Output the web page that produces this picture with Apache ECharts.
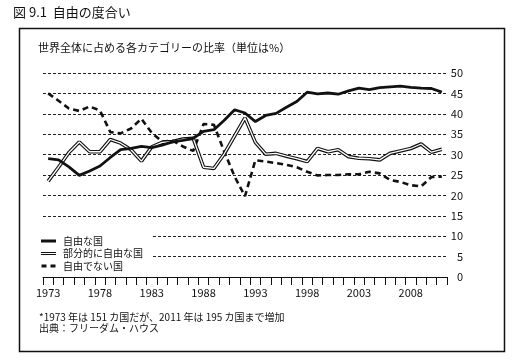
<!DOCTYPE html>
<html>
<head>
<meta charset="utf-8">
<script src="https://cdn.jsdelivr.net/npm/echarts@6/dist/echarts.min.js"></script>
<style>
html,body{margin:0;padding:0;background:#fff;}
#c{width:516px;height:360px;}
</style>
</head>
<body>
<div id="c"></div>
<script>
const years = ['1973','1974','1975','1976','1977','1978','1979','1980','1981','1982','1983','1984','1985','1986','1987','1988','1989','1990','1991','1992','1993','1994','1995','1996','1997','1998','1999','2000','2001','2002','2003','2004','2005','2006','2007','2008','2009','2010','2011'];
const freeVals = [29.0,28.7,27.0,24.9,26.0,27.2,29.3,31.2,31.5,32.0,31.7,32.3,33.1,33.5,34.0,35.7,36.1,38.4,41.0,40.2,38.1,39.6,40.1,41.6,43.0,45.3,44.9,45.1,44.8,45.6,46.3,45.9,46.4,46.6,46.8,46.5,46.3,46.2,45.3];
const partlyVals = [23.5,26.9,30.5,33.1,30.7,30.7,33.7,32.8,31.2,28.4,31.9,33.0,33.2,33.8,34.0,26.9,26.6,30.2,34.6,39.0,33.0,30.1,30.3,29.6,29.0,28.3,31.5,30.7,31.2,29.5,29.1,29.0,28.7,30.3,30.9,31.5,32.6,30.6,31.3];
const notFreeVals = [45.0,43.2,41.3,40.7,41.8,40.8,35.5,35.2,36.4,38.8,35.3,33.2,33.4,32.0,30.9,37.5,37.3,30.7,24.6,19.8,28.6,28.3,27.9,27.5,26.9,25.8,24.9,25.0,25.0,25.2,25.2,25.8,25.4,23.8,23.3,22.5,22.2,24.5,24.6];
const seriesNames = ['自由な国','部分的に自由な国','自由でない国'];
const headerText = '図 9.1  自由の度合い';
const chartTitle = '世界全体に占める各カテゴリーの比率（単位は%）';
const note1 = '*1973 年は 151 カ国だが、2011 年は 195 カ国まで増加';
const note2 = '出典：フリーダム・ハウス';

const FONT = '"Noto Sans CJK JP", "Noto Sans", sans-serif';
const chart = echarts.init(document.getElementById('c'), null, {renderer:'canvas'});
chart.setOption({
  backgroundColor: '#fff',
  animation: false,
  textStyle: { fontFamily: FONT, color: '#111' },
  grid: { left: 43, right: 69, top: 73, bottom: 83 },
  xAxis: {
    type: 'category',
    data: years,
    boundaryGap: true,
    axisLine: { lineStyle: { color: '#111', width: 1 } },
    axisTick: { show: true, interval: 0, length: 8, lineStyle: { color: '#111', width: 1 } },
    axisLabel: { interval: 4, margin: 10, fontSize: 11, color: '#111', fontFamily: FONT },
    splitLine: { show: false }
  },
  yAxis: {
    type: 'value',
    position: 'right',
    min: 0, max: 50, interval: 5,
    axisLine: { show: false },
    axisTick: { show: false },
    axisLabel: { margin: 16, align: 'right', fontSize: 11, color: '#111', fontFamily: FONT },
    splitLine: { show: true, lineStyle: { color: '#222', width: 1, type: [3, 2] } }
  },
  legend: {
    orient: 'vertical',
    left: 37,
    top: 232,
    padding: [3, 10, 3, 4],
    backgroundColor: '#fff',
    itemWidth: 15,
    itemHeight: 3,
    itemGap: 0.5,
    textStyle: { fontSize: 10, color: '#111', fontFamily: FONT, lineHeight: 12, padding: [0,0,0,2] },
    data: [
      { name: seriesNames[0], icon: 'rect' },
      { name: seriesNames[1], icon: 'path://M0,0H15V1H0Z M0,2H15V3H0Z' },
      { name: seriesNames[2], icon: 'path://M0,0H5V3H0Z M9,0H14V3H9Z' }
    ],
    selectedMode: false,
    z: 10
  },
  series: [
    {
      name: seriesNames[2], type: 'line', data: notFreeVals, showSymbol: false, symbol: 'none',
      itemStyle: { color: '#111' },
      lineStyle: { color: '#111', width: 2.6, type: [6, 4] }, z: 2
    },
    {
      name: seriesNames[1], type: 'line', data: partlyVals, showSymbol: false, symbol: 'none',
      itemStyle: { color: '#111' },
      lineStyle: { color: '#111', width: 3.6 }, z: 3
    },
    {
      name: seriesNames[1] + '_inner', type: 'line', data: partlyVals, showSymbol: false, symbol: 'none',
      itemStyle: { color: '#fff' },
      lineStyle: { color: '#fff', width: 1.3 }, z: 4
    },
    {
      name: seriesNames[0], type: 'line', data: freeVals, showSymbol: false, symbol: 'none',
      itemStyle: { color: '#111' },
      lineStyle: { color: '#111', width: 2.8 }, z: 5
    }
  ],
  graphic: [
    { type: 'rect', left: 17, top: 26, shape: { width: 485, height: 323 }, style: { fill: 'none', stroke: '#111', lineWidth: 1.5 }, z: -1, silent: true },
    { type: 'text', left: 13, top: 6, style: { text: headerText, fontSize: 13, fill: '#111', fontFamily: FONT } },
    { type: 'text', left: 38, top: 42, style: { text: chartTitle, fontSize: 11, fill: '#111', fontFamily: FONT } },
    { type: 'text', left: 39, top: 312, style: { text: note1, fontSize: 10, fill: '#111', fontFamily: FONT } },
    { type: 'text', left: 39, top: 323, style: { text: note2, fontSize: 10, fill: '#111', fontFamily: FONT } }
  ]
});
</script>
</body>
</html>
